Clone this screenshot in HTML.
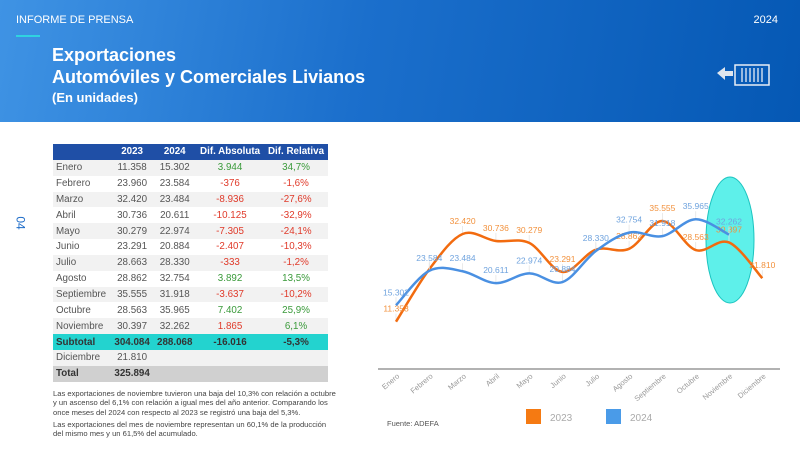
<!DOCTYPE html>
<html><head><meta charset="utf-8">
<style>
*{margin:0;padding:0;box-sizing:border-box}
body{width:800px;height:450px;overflow:hidden;background:#fff;font-family:"Liberation Sans",sans-serif;position:relative}
#hdr{position:absolute;left:0;top:0;width:800px;height:122px;background:linear-gradient(100deg,#3f93e4 0%,#1b6fcc 45%,#0558b4 100%)}
.t{position:absolute;color:#fff;white-space:nowrap}
table{position:absolute;left:53px;top:144px;width:275px;border-collapse:collapse;font-size:9.8px;color:#555}
td,th{height:15.85px;padding:0 3px;text-align:center}
th{background:#1f4fa6;color:#fff;font-weight:bold}
td:first-child{text-align:left}
tr:nth-child(even) td{background:#f2f2f2}
.g{color:#3a9a3a}.r{color:#e03a2a}
.sub td{background:#23d3cf!important;font-weight:bold;color:#333}
.tot td{background:#d0d0d0!important;font-weight:bold;color:#333}
#note{position:absolute;left:53px;top:389px;width:285px;font-size:7.6px;line-height:9.3px;color:#444}
</style></head><body>
<div id="hdr"></div>
<div class="t" style="left:16px;top:14px;font-size:11px">INFORME DE PRENSA</div>
<div style="position:absolute;left:16px;top:35px;width:24px;height:2px;background:#2fd3e0"></div>
<div class="t" style="right:22px;top:14px;font-size:11px">2024</div>
<div class="t" style="left:52px;top:45px;font-size:18px;font-weight:bold">Exportaciones</div>
<div class="t" style="left:52px;top:67px;font-size:18px;font-weight:bold">Automóviles y Comerciales Livianos</div>
<div class="t" style="left:52px;top:90px;font-size:13px;font-weight:bold">(En unidades)</div>
<svg style="position:absolute;left:715px;top:62px" width="60" height="28">
<path d="M2 11 L10 5 L10 9 L18 9 L18 14 L10 14 L10 18 Z" fill="#dfe6ee"/>
<rect x="20" y="3" width="34" height="20" fill="none" stroke="#e8eef6" stroke-width="1.5"/>
<g stroke="#e8eef6" stroke-width="1.3"><line x1="27" y1="6" x2="27" y2="20"/><line x1="31" y1="6" x2="31" y2="20"/><line x1="35" y1="6" x2="35" y2="20"/><line x1="39" y1="6" x2="39" y2="20"/><line x1="43" y1="6" x2="43" y2="20"/><line x1="47" y1="6" x2="47" y2="20"/></g>
</svg>
<div style="position:absolute;left:14px;top:216px;color:#1e6cc8;font-size:12px;transform:rotate(90deg)">04</div>

<table>
<tr><th></th><th>2023</th><th>2024</th><th>Dif. Absoluta</th><th>Dif. Relativa</th></tr>
<tr><td>Enero</td><td>11.358</td><td>15.302</td><td class="g">3.944</td><td class="g">34,7%</td></tr>
<tr><td>Febrero</td><td>23.960</td><td>23.584</td><td class="r">-376</td><td class="r">-1,6%</td></tr>
<tr><td>Marzo</td><td>32.420</td><td>23.484</td><td class="r">-8.936</td><td class="r">-27,6%</td></tr>
<tr><td>Abril</td><td>30.736</td><td>20.611</td><td class="r">-10.125</td><td class="r">-32,9%</td></tr>
<tr><td>Mayo</td><td>30.279</td><td>22.974</td><td class="r">-7.305</td><td class="r">-24,1%</td></tr>
<tr><td>Junio</td><td>23.291</td><td>20.884</td><td class="r">-2.407</td><td class="r">-10,3%</td></tr>
<tr><td>Julio</td><td>28.663</td><td>28.330</td><td class="r">-333</td><td class="r">-1,2%</td></tr>
<tr><td>Agosto</td><td>28.862</td><td>32.754</td><td class="g">3.892</td><td class="g">13,5%</td></tr>
<tr><td>Septiembre</td><td>35.555</td><td>31.918</td><td class="r">-3.637</td><td class="r">-10,2%</td></tr>
<tr><td>Octubre</td><td>28.563</td><td>35.965</td><td class="g">7.402</td><td class="g">25,9%</td></tr>
<tr><td>Noviembre</td><td>30.397</td><td>32.262</td><td class="r">1.865</td><td class="g">6,1%</td></tr>
<tr class="sub"><td>Subtotal</td><td>304.084</td><td>288.068</td><td class="r">-16.016</td><td class="r">-5,3%</td></tr>
<tr><td>Diciembre</td><td>21.810</td><td></td><td></td><td></td></tr>
<tr class="tot"><td>Total</td><td>325.894</td><td></td><td></td><td></td></tr>
</table>
<div id="note">Las exportaciones de noviembre tuvieron una baja del 10,3% con relación a octubre y un ascenso del 6,1% con relación a igual mes del año anterior. Comparando los once meses del 2024 con respecto al 2023 se registró una baja del 5,3%.<div style="height:3px"></div>Las exportaciones del mes de noviembre representan un 60,1% de la producción del mismo mes y un 61,5% del acumulado.</div>

<svg id="chart" style="position:absolute;left:0;top:0" width="800" height="450"></svg>
<script>
const months=["Enero","Febrero","Marzo","Abril","Mayo","Junio","Julio","Agosto","Septiembre","Octubre","Noviembre","Diciembre"];
const v2023=[11358,23960,32420,30736,30279,23291,28663,28862,35555,28563,30397,21810];
const v2024=[15302,23584,23484,20611,22974,20884,28330,32754,31918,35965,32262];
const lbl2023=["11.358","","32.420","30.736","30.279","23.291","","28.862","35.555","28.563","30.397","21.810"];
const lbl2024=["15.302","23.584","23.484","20.611","22.974","20.884","28.330","32.754","31.918","35.965","32.262"];
const svg=document.getElementById('chart');const NS="http://www.w3.org/2000/svg";
const X=i=>396+i*33.3; const Y=v=>369-v*0.004164;
function mk(t,a){const e=document.createElementNS(NS,t);for(const k in a)e.setAttribute(k,a[k]);svg.appendChild(e);return e;}
const ell=mk('ellipse',{cx:730,cy:240,rx:24,ry:63,fill:'#5ef0ea',stroke:'#1cc4c0','stroke-width':1});


const ax=mk('line',{x1:378,x2:780,y1:369,y2:369,stroke:'#999','stroke-width':1.5});


months.forEach((m,i)=>{const t=mk('text',{x:X(i)+4,y:377,'font-size':7.5,fill:'#999','text-anchor':'end',transform:`rotate(-40 ${X(i)+4} 377)`});t.textContent=m;

});
function path(vals){const p=vals.map((v,i)=>[X(i),Y(v)]);let d=`M${p[0][0]},${p[0][1]}`;
for(let i=0;i<p.length-1;i++){const a=p[Math.max(0,i-1)],b=p[i],c=p[i+1],e=p[Math.min(p.length-1,i+2)];
d+=` C${b[0]+(c[0]-a[0])/6},${b[1]+(c[1]-a[1])/6} ${c[0]-(e[0]-b[0])/6},${c[1]-(e[1]-b[1])/6} ${c[0]},${c[1]}`;}return d;}
function series(vals,lbls,col,lcol,name){
vals.forEach((v,i)=>{const g=mk('line',{x1:X(i),x2:X(i),y1:Y(v)-8,y2:Y(v),stroke:'#e4e4e4','stroke-width':0.8});

});
const l=mk('path',{d:path(vals),fill:'none',stroke:col,'stroke-width':2.5});


vals.forEach((v,i)=>{if(!lbls[i])return;const t=mk('text',{x:X(i),y:Y(v)-10,'font-size':8.5,fill:lcol,'text-anchor':'middle'});t.textContent=lbls[i];

});}
series(v2023,lbl2023,'#f26b0f','#f2913c','series-2023');
series(v2024,lbl2024,'#4a90e2','#6fa3de','series-2024');
const f=mk('text',{x:387,y:426,'font-size':7.5,fill:'#555'});f.textContent='Fuente: ADEFA';


[[526,'#f57a12','2023'],[606,'#4a9be8','2024']].forEach(([x,c,s])=>{const r=mk('rect',{x:x,y:409,width:15,height:15,fill:c});


const t=mk('text',{x:x+24,y:421,'font-size':10,fill:'#aaa'});t.textContent=s;

});
</script>
</body></html>
